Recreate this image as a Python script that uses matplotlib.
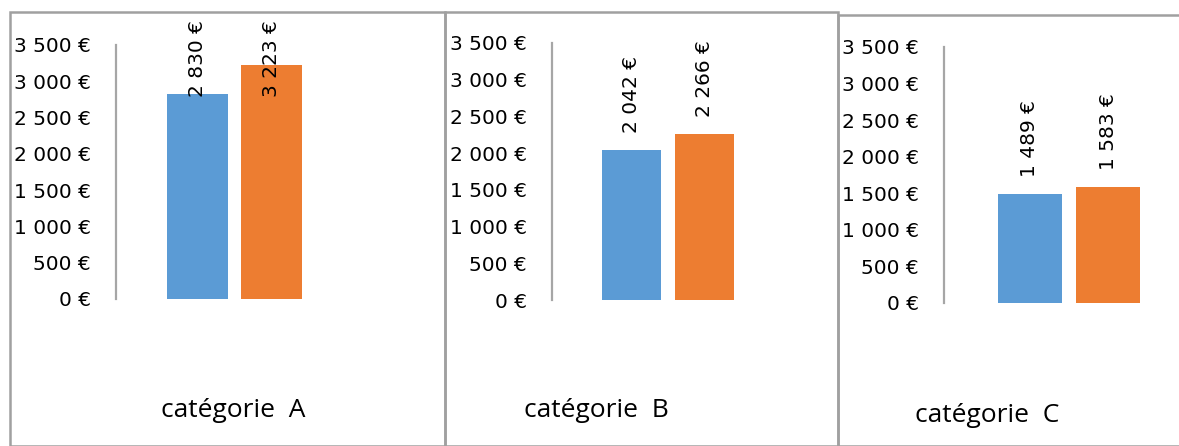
import matplotlib.pyplot as plt
from matplotlib.patches import Rectangle
from matplotlib.ticker import FuncFormatter

categories = ["catégorie  A", "catégorie  B", "catégorie  C"]
series1 = [2830, 2042, 1489]
series2 = [3223, 2266, 1583]
yticks = [0, 500, 1000, 1500, 2000, 2500, 3000, 3500]

colors = ["#5B9BD5", "#ED7D31"]
W, H = 1179, 446

# panel layout in pixels (from top-left): border box, axes box, category label
panels = [
    dict(box=(10, 12, 435), ax=(116, 45, 237, 254), lab=(233, 417)),
    dict(box=(445, 12, 393), ax=(552, 43, 232, 257), lab=(596, 417)),
    dict(box=(838, 15, 400), ax=(944, 47, 250, 256), lab=(987, 422)),
]

def euro(v, pos=None):
    return f"{int(v):,} €".replace(",", " ")

fig = plt.figure(figsize=(W / 100, H / 100), dpi=100)
plt.rcParams['font.family'] = ['DejaVu Sans']

for i, p in enumerate(panels):
    bx, by, bw = p["box"]
    fig.patches.append(Rectangle((bx / W, 0), bw / W, (H - by) / H + 0.0,
                                 transform=fig.transFigure, fill=False,
                                 edgecolor="#a0a0a0", lw=1.8, clip_on=False))
    left, top, aw, ah = p["ax"]
    ax = fig.add_axes([left / W, (H - top - ah) / H, aw / W, ah / H])
    vals = [series1[i], series2[i]]
    ax.bar([0, 1], vals, width=0.82, color=colors)
    ax.set_xlim(-1.1, 2.1)
    ax.set_ylim(0, 3500)
    ax.set_yticks(yticks)
    ax.yaxis.set_major_formatter(FuncFormatter(euro))
    ax.tick_params(axis="y", length=0, pad=18, labelsize=14.5)
    ax.set_xticks([])
    for s in ["top", "right", "bottom"]:
        ax.spines[s].set_visible(False)
    ax.spines["left"].set_color("#a6a6a6")
    ax.spines["left"].set_linewidth(1.6)

    # value labels above the bars, pushed down when they would leave the panel
    ppu = ah / 3500.0
    top_limit = 3500 + 25 / ppu
    for x, v in zip([0, 1], vals):
        base = v + 17 / ppu
        if base + 80 / ppu > top_limit:
            ax.text(x, top_limit, euro(v), rotation=90, ha="center", va="top",
                    fontsize=14.5, clip_on=False)
        else:
            ax.text(x, base, euro(v), rotation=90, ha="center", va="bottom",
                    fontsize=14.5, clip_on=False)

    lx, ly = p["lab"]
    fig.text(lx / W, (H - ly) / H, categories[i], ha="center", va="baseline",
             fontsize=19, family="Open Sans")

fig.savefig("out.png", dpi=100)
